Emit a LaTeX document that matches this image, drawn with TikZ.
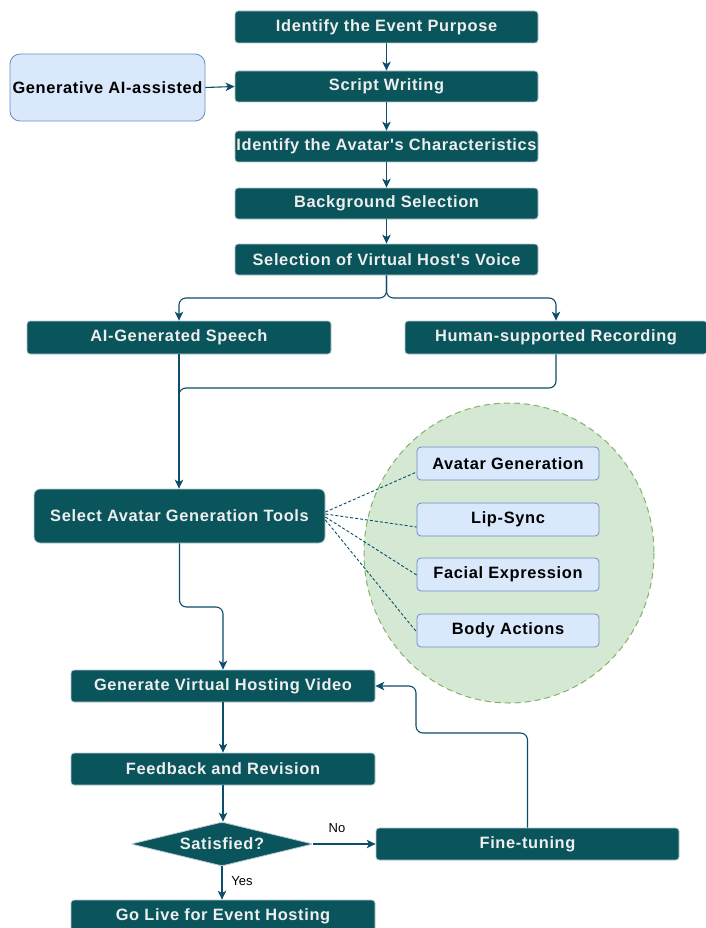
\documentclass[tikz,border=0pt]{standalone}
\usepackage{fontspec}
\setmainfont{Liberation Sans}
\newfontfamily\boxfont{Liberation Sans}[LetterSpace=4]
\usetikzlibrary{shapes.geometric,arrows.meta,calc}
\definecolor{tealfill}{HTML}{09555B}
\definecolor{tealstroke}{HTML}{BAC8D3}
\definecolor{tealtext}{HTML}{EEEEEE}
\definecolor{arrowc}{HTML}{0B4D6A}
\definecolor{lblue}{HTML}{DAE8FC}
\definecolor{bstroke}{HTML}{6C8EBF}
\definecolor{lgreen}{HTML}{D5E8D4}
\definecolor{gstroke}{HTML}{82B366}
\begin{document}
\begin{tikzpicture}[x=1pt,y=-1pt,
  tealbox/.style={rectangle, rounded corners=3pt, fill=tealfill, draw=tealstroke, line width=0.8pt,
    text=tealtext, font=\boxfont\bfseries\fontsize{16.4}{19}\selectfont, inner sep=0pt},
  bluebox/.style={rectangle, rounded corners=4pt, fill=lblue, draw=bstroke, line width=0.8pt,
    text=black, font=\boxfont\bfseries\fontsize{16.4}{19}\selectfont, inner sep=0pt},
  conn/.style={draw=arrowc, line width=1.1pt, -{Stealth[length=9pt,width=8.5pt,inset=2.5pt]}, rounded corners=7pt},
  plainconn/.style={draw=arrowc, line width=1.1pt, rounded corners=7pt},
  dashconn/.style={draw=arrowc, line width=0.9pt, dash pattern=on 3pt off 2pt},
  lbl/.style={font=\fontsize{13}{15}\selectfont, text=black, inner sep=0pt}
]
\useasboundingbox (0,0) rectangle (705,928);
\fill[white] (0,0) rectangle (705,928);

% ellipse group
\draw[fill=lgreen, draw=gstroke, line width=1pt, dash pattern=on 6pt off 4pt] (509,553) ellipse [x radius=145, y radius=150];

% nodes
\node[tealbox, minimum width=303pt, minimum height=32pt] (b1) at (386.5,27) {Identify the Event Purpose};
\node[tealbox, minimum width=303pt, minimum height=31pt] (b2) at (386.5,86.5) {Script Writing};
\node[bluebox, rounded corners=10pt, minimum width=195pt, minimum height=67pt] (gen) at (107.5,87.5) {Generative AI-assisted};
\node[tealbox, minimum width=303pt, minimum height=31pt] (b3) at (386.5,146.5) {Identify the Avatar's Characteristics};
\node[tealbox, minimum width=303pt, minimum height=31pt] (b4) at (386.5,203.5) {Background Selection};
\node[tealbox, minimum width=303pt, minimum height=31pt] (b5) at (386.5,259.5) {Selection of Virtual Host's Voice};
\node[tealbox, minimum width=304pt, minimum height=33pt] (b6) at (179,337.5) {AI-Generated Speech};
\node[tealbox, minimum width=302pt, minimum height=33pt] (b7) at (556,337.5) {Human-supported Recording};
\node[tealbox, rounded corners=6pt, minimum width=291pt, minimum height=54pt] (b8) at (179.5,516) {Select Avatar Generation Tools};
\node[bluebox, minimum width=182pt, minimum height=33pt] (s1) at (508,463.5) {Avatar Generation};
\node[bluebox, minimum width=182pt, minimum height=33pt] (s2) at (508,519.5) {Lip-Sync};
\node[bluebox, minimum width=182pt, minimum height=33pt] (s3) at (508,574.5) {Facial Expression};
\node[bluebox, minimum width=182pt, minimum height=33pt] (s4) at (508,630.5) {Body Actions};
\node[tealbox, minimum width=304pt, minimum height=32pt] (b9) at (223,686) {Generate Virtual Hosting Video};
\node[tealbox, minimum width=304pt, minimum height=32pt] (b10) at (223,769) {Feedback and Revision};
\node[tealbox, diamond, rounded corners=2pt, shape aspect=4.1, minimum width=182pt, minimum height=44pt] (d) at (222,844) {Satisfied?};
\node[tealbox, minimum width=303pt, minimum height=32pt] (fine) at (527.5,844) {Fine-tuning};
\node[tealbox, minimum width=304pt, minimum height=32pt] (golive) at (223,916) {Go Live for Event Hosting};

\node[lbl] (no) at (337,828) {No};
\node[lbl] (yes) at (242,881) {Yes};

% coordinates
\coordinate (fork) at (386.5,298);
\coordinate (m1) at (179,388);
\coordinate (m2) at (179,430);
\coordinate (k1) at (179.5,607);
\coordinate (f1) at (527.5,733);
\coordinate (f2) at (416,733);
\coordinate (f3) at (416,686);

% connectors
\draw[conn] (b1) -- (b2);
\draw[conn] (gen.east) -- (b2.west);
\draw[conn] (b2) -- (b3);
\draw[conn] (b3) -- (b4);
\draw[conn] (b4) -- (b5);
\draw[conn] (b5.south) -- (fork) -| (b6.north);
\draw[conn] (b5.south) -- (fork) -| (b7.north);
\draw[conn] (b6.south) -- (b6.south |- b8.north);
\draw[plainconn] (b7.south) |- (m1) -- (m2);
\draw[conn] (b8.south) -- (k1) -| (b9.north);
\draw[conn] (b9) -- (b10);
\draw[conn] (b10.south) -- (b10.south |- d.north);
\draw[conn] (d.east) -- (fine.west);
\draw[conn] (d.south) -- (d.south |- golive.north);
\draw[conn] (fine.north) -- (f1) -- (f2) -- (f3) -- (b9.east);

\draw[dashconn] ($(b8.east)+(0,-4)$) -- ($(s1.west)+(0,8.5)$);
\draw[dashconn] ($(b8.east)+(0,-2)$) -- ($(s2.west)+(0,7.5)$);
\draw[dashconn] ($(b8.east)+(0,1)$) -- ($(s3.west)+(0,0.5)$);
\draw[dashconn] ($(b8.east)+(0,4)$) -- ($(s4.west)+(0,1.5)$);
\end{tikzpicture}
\end{document}
